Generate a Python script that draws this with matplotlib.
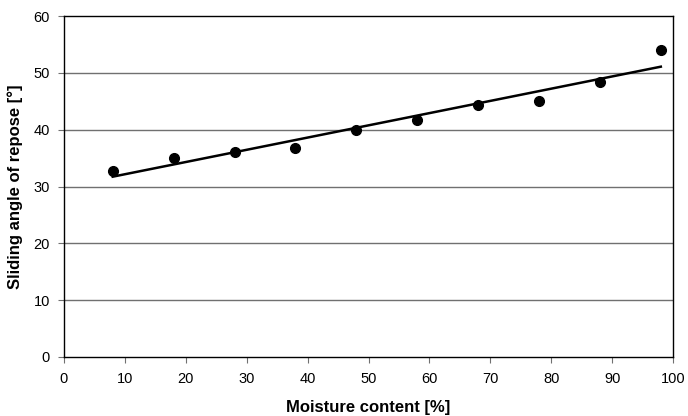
import matplotlib
matplotlib.use("Agg")
import matplotlib.pyplot as plt
import numpy as np

moisture = [8, 18, 28, 38, 48, 58, 68, 78, 88, 98]
angle = [32.7, 35.0, 36.0, 36.85, 40.0, 41.7, 44.4, 45.0, 48.4, 54.0]
x_ticks = [0, 10, 20, 30, 40, 50, 60, 70, 80, 90, 100]
y_ticks = [0, 10, 20, 30, 40, 50, 60]

plt.rcParams['font.family'] = ['Liberation Sans', 'DejaVu Sans']

fig = plt.figure(figsize=(6.88, 4.16), dpi=100)
ax = fig.add_axes([64/688, 1 - 357/416, (673-64)/688, (357-16)/416])

coef = np.polyfit(moisture, angle, 1)
xl = np.array([moisture[0], moisture[-1]])
ax.plot(xl, np.polyval(coef, xl), color='black', lw=1.8, zorder=3)
ax.plot(moisture, angle, 'o', color='black', ms=7, zorder=4)

ax.set_xlim(0, 100)
ax.set_ylim(0, 60)
ax.set_xticks(x_ticks)
ax.set_yticks(y_ticks)
for y in y_ticks[1:-1]:
    ax.axhline(y, color='#707070', lw=1.0, zorder=1)
ax.tick_params(axis='both', labelsize=10.5, direction='out', length=4, width=0.8, color='#707070')
ax.tick_params(axis='x', pad=7)
ax.tick_params(axis='y', pad=6)
for s in ax.spines.values():
    s.set_linewidth(1.0)
    s.set_color('black')
ax.set_xlabel('Moisture content [%]', fontsize=12, fontweight='bold', labelpad=10)
ax.set_ylabel('Sliding angle of repose [°]', fontsize=12, fontweight='bold', labelpad=8)

fig.savefig('out.png', dpi=100)
